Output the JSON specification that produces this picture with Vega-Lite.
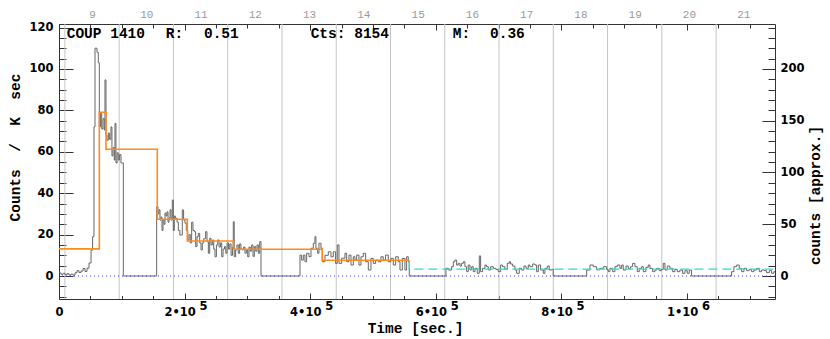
{
  "$schema": "https://vega.github.io/schema/vega-lite/v6.json",
  "width": 716,
  "height": 275,
  "autosize": {"type": "none"},
  "padding": {"left": 59, "top": 24, "right": 55, "bottom": 40},
  "background": "white",
  "config": {
    "view": {"stroke": "#333", "strokeWidth": 1},
    "axis": {"grid": false, "domain": false, "tickColor": "#333", "labelColor": "#000", "tickWidth": 1}
  },
  "datasets": {
    "lc": [
      {"t":0,"v":1.5},{"t":3200,"v":0.8},{"t":6400,"v":1.3},{"t":9600,"v":0.6},{"t":12700,"v":1.1},{"t":15900,"v":0.5},{"t":19100,"v":0.9},{"t":22300,"v":0.4},{"t":25500,"v":1.6},{"t":28700,"v":2.6},{"t":31800,"v":1.7},{"t":35000,"v":2.4},{"t":38200,"v":3.6},{"t":41400,"v":2.2},{"t":44600,"v":3.8},{"t":47800,"v":6.3},{"t":51000,"v":12.5},{"t":53500,"v":19},{"t":55700,"v":72},{"t":57300,"v":110},{"t":60500,"v":108},{"t":62600,"v":103},{"t":64200,"v":72},{"t":66000,"v":78.6},{"t":68000,"v":71},{"t":70000,"v":76},{"t":72000,"v":70.5},{"t":73200,"v":94.7},{"t":74800,"v":68},{"t":76400,"v":65.6},{"t":78500,"v":69},{"t":80600,"v":66},{"t":82700,"v":72},{"t":84300,"v":58},{"t":86000,"v":62},{"t":88000,"v":56},{"t":89100,"v":73.7},{"t":90700,"v":54.6},{"t":92500,"v":59.5},{"t":94400,"v":56},{"t":96500,"v":58.6},{"t":98700,"v":54.6},{"t":102400,"v":0},
      {"t":155500,"v":33.5},{"t":157600,"v":30},{"t":159200,"v":32},{"t":160800,"v":27},{"t":162400,"v":28.5},{"t":164000,"v":22},{"t":165600,"v":27},{"t":167200,"v":25},{"t":168800,"v":30.4},{"t":170400,"v":29},{"t":172000,"v":31},{"t":173600,"v":26},{"t":175200,"v":28},{"t":176800,"v":32},{"t":178400,"v":27},{"t":180400,"v":36.7},{"t":182000,"v":22},{"t":183600,"v":29},{"t":185200,"v":27.9},{"t":188000,"v":26},{"t":190000,"v":22},{"t":192500,"v":19.8},{"t":196300,"v":31.9},{"t":198400,"v":27},{"t":200600,"v":25.5},{"t":202700,"v":22},{"t":204900,"v":17.4},{"t":207000,"v":20},{"t":209000,"v":16},{"t":211200,"v":26},{"t":213300,"v":22},{"t":215500,"v":21.4},{"t":217600,"v":14.2},{"t":219700,"v":19},{"t":221800,"v":20.6},{"t":224000,"v":16},{"t":226100,"v":12.6},{"t":228200,"v":16},{"t":230400,"v":18},{"t":233500,"v":21.4},{"t":235600,"v":16.6},{"t":237800,"v":11},{"t":239900,"v":18.2},{"t":242000,"v":15},{"t":244200,"v":17.4},{"t":246300,"v":13},{"t":248400,"v":9.3},{"t":250600,"v":15},{"t":252700,"v":17.4},{"t":254800,"v":14},{"t":257000,"v":16},{"t":259100,"v":9.3},{"t":261200,"v":13},{"t":263400,"v":14.2},{"t":265500,"v":11},{"t":267600,"v":16},{"t":269800,"v":13},{"t":271900,"v":15.5},{"t":274000,"v":10},{"t":276200,"v":14},{"t":277500,"v":26.2},{"t":279000,"v":9.3},{"t":281200,"v":12.6},{"t":283300,"v":15},{"t":285400,"v":11},{"t":287600,"v":15.5},{"t":289700,"v":13},{"t":291800,"v":12.6},{"t":294000,"v":14},{"t":296100,"v":11},{"t":298200,"v":12.6},{"t":300400,"v":9.3},{"t":302500,"v":14},{"t":304600,"v":12},{"t":306800,"v":15},{"t":308900,"v":9.5},{"t":311000,"v":14.2},{"t":313200,"v":12},{"t":315300,"v":15},{"t":317400,"v":11},{"t":319600,"v":16.6},{"t":321600,"v":0},
      {"t":383700,"v":10.1},{"t":386300,"v":7.7},{"t":389000,"v":10.1},{"t":391600,"v":6.9},{"t":394300,"v":11},{"t":398000,"v":9.3},{"t":401200,"v":13.4},{"t":404900,"v":15.8},{"t":407500,"v":19},{"t":409100,"v":13.4},{"t":411800,"v":11},{"t":413900,"v":15.8},{"t":417100,"v":13.4},{"t":419200,"v":6.9},{"t":423500,"v":10},{"t":428800,"v":11.7},{"t":433000,"v":9.3},{"t":436700,"v":11.7},{"t":440400,"v":6.1},{"t":443100,"v":15},{"t":445800,"v":6.1},{"t":450000,"v":8.6},{"t":455300,"v":11},{"t":458000,"v":6.9},{"t":461700,"v":10.1},{"t":464900,"v":5.3},{"t":468600,"v":9.3},{"t":471200,"v":7.7},{"t":473900,"v":10.1},{"t":477600,"v":5.3},{"t":480800,"v":9.3},{"t":484500,"v":11},{"t":488200,"v":6.9},{"t":492500,"v":2.9},{"t":496700,"v":8.5},{"t":500400,"v":6.1},{"t":504100,"v":7.7},{"t":508400,"v":6.9},{"t":512600,"v":9.3},{"t":516300,"v":7.7},{"t":520000,"v":10.1},{"t":524300,"v":6.9},{"t":528500,"v":8.5},{"t":532300,"v":5.3},{"t":536000,"v":9.3},{"t":540200,"v":6.9},{"t":542900,"v":2.9},{"t":546600,"v":8.5},{"t":550800,"v":2.9},{"t":553500,"v":9.3},{"t":556100,"v":6.9},{"t":557700,"v":0},
      {"t":616100,"v":3.7},{"t":619800,"v":2.9},{"t":625100,"v":4.5},{"t":627800,"v":6.9},{"t":630400,"v":7.7},{"t":633100,"v":5.3},{"t":635700,"v":6.1},{"t":638400,"v":4.8},{"t":641000,"v":6.1},{"t":643700,"v":6.9},{"t":646300,"v":4.5},{"t":649000,"v":2.1},{"t":651600,"v":5.3},{"t":654300,"v":2.9},{"t":657000,"v":4.5},{"t":659600,"v":2.1},{"t":662300,"v":3.7},{"t":666000,"v":1.3},{"t":669200,"v":9.7},{"t":671300,"v":2.1},{"t":674500,"v":3.7},{"t":678200,"v":5.3},{"t":680800,"v":4.5},{"t":683500,"v":2.9},{"t":687200,"v":4.5},{"t":691500,"v":3.7},{"t":695700,"v":3.2},{"t":699400,"v":2.1},{"t":703100,"v":5.3},{"t":706300,"v":4.5},{"t":710000,"v":3.2},{"t":713700,"v":6.1},{"t":716900,"v":6.9},{"t":719000,"v":5.8},{"t":722200,"v":4.8},{"t":725900,"v":2.9},{"t":728600,"v":1.3},{"t":732800,"v":3.7},{"t":736600,"v":2.9},{"t":740300,"v":4.8},{"t":743500,"v":3.7},{"t":747200,"v":5.3},{"t":749800,"v":4.5},{"t":754100,"v":5.8},{"t":757800,"v":5.3},{"t":760500,"v":2.1},{"t":763100,"v":5.3},{"t":766800,"v":2.9},{"t":771100,"v":1.3},{"t":773700,"v":3.7},{"t":777400,"v":4.8},{"t":780600,"v":2.9},{"t":784300,"v":3.2},{"t":786900,"v":0},
      {"t":840100,"v":2.9},{"t":845400,"v":5.3},{"t":850700,"v":4.5},{"t":856000,"v":3.0},{"t":861300,"v":3.7},{"t":866600,"v":4.5},{"t":871900,"v":3.2},{"t":874500,"v":2.1},{"t":877200,"v":3.7},{"t":881400,"v":2.1},{"t":885200,"v":4.5},{"t":888900,"v":5.3},{"t":893100,"v":3.7},{"t":895800,"v":5.3},{"t":898400,"v":2.9},{"t":902700,"v":4.8},{"t":906400,"v":3.7},{"t":910100,"v":4.5},{"t":913300,"v":6.1},{"t":917000,"v":4.5},{"t":920700,"v":2.1},{"t":923900,"v":3.7},{"t":927600,"v":4.5},{"t":930300,"v":2.1},{"t":934500,"v":4.2},{"t":938200,"v":5.3},{"t":940900,"v":3.7},{"t":945100,"v":2.1},{"t":948800,"v":2.9},{"t":951500,"v":3.7},{"t":955700,"v":2.6},{"t":959400,"v":3.2},{"t":962100,"v":6.1},{"t":964800,"v":2.9},{"t":968500,"v":4.8},{"t":972700,"v":3.7},{"t":977000,"v":2.1},{"t":980700,"v":3.2},{"t":984400,"v":2.1},{"t":988600,"v":2.9},{"t":992900,"v":1.3},{"t":996600,"v":2.6},{"t":1000300,"v":1.3},{"t":1003500,"v":2.9},{"t":1007200,"v":0},
      {"t":1070900,"v":2.1},{"t":1074600,"v":4.5},{"t":1078900,"v":5.3},{"t":1083100,"v":3.7},{"t":1086800,"v":2.1},{"t":1090500,"v":3.7},{"t":1094800,"v":2.6},{"t":1099000,"v":3.2},{"t":1102700,"v":2.1},{"t":1106400,"v":2.9},{"t":1110700,"v":3.7},{"t":1114900,"v":2.1},{"t":1118700,"v":2.9},{"t":1122400,"v":2.6},{"t":1126600,"v":1.6},{"t":1130900,"v":2.6},{"t":1134600,"v":1.3},{"t":1138300,"v":2.1},{"t":1140000,"v":2.1}
    ],
    "blocks": [
      {"t":0,"v":13.1},{"t":64200,"v":79.1},{"t":74800,"v":61.2},{"t":156500,"v":27.4},{"t":204300,"v":16.9},{"t":277500,"v":12.9},{"t":419200,"v":7.6},{"t":557700,"v":7.6}
    ],
    "cyan": [
      {"i":0,"t":557700,"v":7.6},{"i":1,"t":557700,"v":3.3},{"i":2,"t":1140000,"v":3.3}
    ],
    "days": [
      {"t":9400},{"t":95800},{"t":182200},{"t":268600},{"t":355000},{"t":441400},{"t":527800},{"t":614200},{"t":700600},{"t":787000},{"t":873400},{"t":959800},{"t":1046200}
    ],
    "notes": [
      {"t":12260,"v":117.1,"label":"COUP 1410"},
      {"t":169900,"v":117.1,"label":"R:"},
      {"t":230800,"v":117.1,"label":"0.51"},
      {"t":400700,"v":117.1,"label":"Cts: 8154"},
      {"t":626800,"v":117.1,"label":"M:"},
      {"t":686200,"v":117.1,"label":"0.36"}
    ],
    "zero": [{"c":0}]
  },
  "resolve": {
    "scale": {"x": "independent", "y": "independent"},
    "axis": {"x": "independent", "y": "independent"}
  },
  "layer": [
    {
      "data": {"name": "days"},
      "mark": {"type": "rule", "color": "#c4c4c4", "strokeWidth": 1},
      "encoding": {
        "x": {
          "field": "t", "type": "quantitative",
          "scale": {"domain": [0, 1140000], "nice": false, "zero": false},
          "axis": {
            "orient": "top",
            "values": [52600,139000,225400,311800,398200,484600,571000,657400,743800,830200,916600,1003000,1089400],
            "labelExpr": "'' + round((datum.value - 52600) / 86400 + 9)",
            "ticks": false, "domain": false, "title": null,
            "labelFont": "Liberation Mono", "labelFontSize": 11, "labelColor": "#999",
            "labelPadding": 5
          }
        }
      }
    },
    {
      "data": {"name": "lc"},
      "mark": {"type": "line", "interpolate": "step-after", "color": "#666", "strokeWidth": 1},
      "encoding": {
        "x": {
          "field": "t", "type": "quantitative",
          "scale": {"domain": [0, 1140000], "nice": false, "zero": false},
          "axis": {
            "orient": "bottom",
            "values": [0,50000,100000,150000,200000,250000,300000,350000,400000,450000,500000,550000,600000,650000,700000,750000,800000,850000,900000,950000,1000000,1050000,1100000],
            "tickSize": {"condition": {"test": "datum.value % 200000 === 0", "value": -6}, "value": -3.5},
            "labelExpr": "datum.value === 0 ? '0' : (datum.value % 200000 !== 0 ? '' : (datum.value < 1000000 ? (datum.value / 100000) + '•10' : (datum.value / 1000000) + '•10'))",
            "labelFont": "DejaVu Sans", "labelFontWeight": "bold", "labelFontSize": 11.5,
            "labelBaseline": "middle", "labelPadding": 19.5, "labelFlush": false,
            "labelOffset": {"condition": {"test": "datum.value === 0", "value": 0}, "value": -5},
            "title": "Time [sec.]",
            "titleFont": "Liberation Mono", "titleFontSize": 14.5, "titleFontWeight": "bold",
            "titleBaseline": "middle", "titleX": 356, "titleY": 29, "titleAnchor": "middle"
          }
        },
        "y": {
          "field": "v", "type": "quantitative",
          "scale": {"domain": [-11.1, 121.7], "nice": false, "zero": false},
          "axis": {
            "orient": "left",
            "values": [-10,-5,0,5,10,15,20,25,30,35,40,45,50,55,60,65,70,75,80,85,90,95,100,105,110,115,120],
            "tickSize": {"condition": {"test": "datum.value % 20 === 0", "value": -14}, "value": -7},
            "labelExpr": "datum.value % 20 === 0 && datum.value >= 0 ? datum.label : ''",
            "labelFont": "DejaVu Sans", "labelFontWeight": "bold", "labelFontSize": 11.5,
            "labelPadding": 20, "labelFlush": false,
            "title": "Counts\u00a0\u00a0/\u00a0\u00a0K\u00a0\u00a0sec",
            "titleFont": "Liberation Mono", "titleFontSize": 14.5, "titleFontWeight": "bold",
            "titleAngle": 270, "titleBaseline": "middle", "titleX": -44, "titleY": 123, "titleAnchor": "middle"
          }
        }
      }
    },
    {
      "data": {"name": "blocks"},
      "mark": {"type": "line", "interpolate": "step-after", "color": "#ff8a1e", "strokeWidth": 1.6},
      "encoding": {
        "x": {
          "field": "t", "type": "quantitative",
          "scale": {"domain": [0, 1140000], "nice": false, "zero": false},
          "axis": {
            "orient": "bottom",
            "values": [200000,400000,600000,800000,1000000],
            "ticks": false, "domain": false, "title": null,
            "labelExpr": "datum.value < 1000000 ? '5' : '6'",
            "labelFont": "DejaVu Sans", "labelFontWeight": "bold", "labelFontSize": 11.5,
            "labelBaseline": "middle", "labelPadding": 7, "labelFlush": false,
            "labelOffset": 18.5
          }
        },
        "y": {
          "field": "v", "type": "quantitative",
          "scale": {"domain": [-11.1, 121.7], "nice": false, "zero": false},
          "axis": null
        }
      }
    },
    {
      "data": {"name": "cyan"},
      "mark": {"type": "line", "color": "#22dede", "strokeWidth": 1.3, "strokeDash": [9, 5]},
      "encoding": {
        "x": {
          "field": "t", "type": "quantitative",
          "scale": {"domain": [0, 1140000], "nice": false, "zero": false},
          "axis": {
            "orient": "top",
            "values": [0,50000,100000,150000,200000,250000,300000,350000,400000,450000,500000,550000,600000,650000,700000,750000,800000,850000,900000,950000,1000000,1050000,1100000],
            "tickSize": {"condition": {"test": "datum.value % 200000 === 0", "value": -6}, "value": -4},
            "labels": false, "domain": false, "title": null
          }
        },
        "y": {
          "field": "v", "type": "quantitative",
          "scale": {"domain": [-11.1, 121.7], "nice": false, "zero": false},
          "axis": null
        },
        "order": {"field": "i"}
      }
    },
    {
      "data": {"name": "zero"},
      "mark": {"type": "rule", "color": "#3a3aff", "strokeWidth": 1, "strokeDash": [1, 3]},
      "encoding": {
        "y": {
          "field": "c", "type": "quantitative",
          "scale": {"domain": [-22.2, 243.4], "nice": false, "zero": false},
          "axis": {
            "orient": "right",
            "values": [-20,-10,0,10,20,30,40,50,60,70,80,90,100,110,120,130,140,150,160,170,180,190,200,210,220,230,240],
            "tickSize": {"condition": {"test": "datum.value % 50 === 0", "value": -13}, "value": -7},
            "labelExpr": "datum.value % 50 === 0 && datum.value >= 0 ? datum.label : ''",
            "labelFont": "DejaVu Sans", "labelFontWeight": "bold", "labelFontSize": 11.5,
            "labelPadding": 18, "labelFlush": false,
            "title": "counts [approx.]",
            "titleFont": "Liberation Mono", "titleFontSize": 14.5, "titleFontWeight": "bold",
            "titleAngle": 270, "titleBaseline": "middle", "titleX": 40, "titleY": 171, "titleAnchor": "middle"
          }
        }
      }
    },
    {
      "data": {"name": "notes"},
      "mark": {"type": "text", "align": "left", "baseline": "middle", "font": "Liberation Mono", "fontWeight": "bold", "fontSize": 14.5, "color": "#000"},
      "encoding": {
        "x": {"field": "t", "type": "quantitative", "scale": {"domain": [0, 1140000], "nice": false, "zero": false}, "axis": null},
        "y": {"field": "v", "type": "quantitative", "scale": {"domain": [-11.1, 121.7], "nice": false, "zero": false}, "axis": null},
        "text": {"field": "label"}
      }
    }
  ]
}
